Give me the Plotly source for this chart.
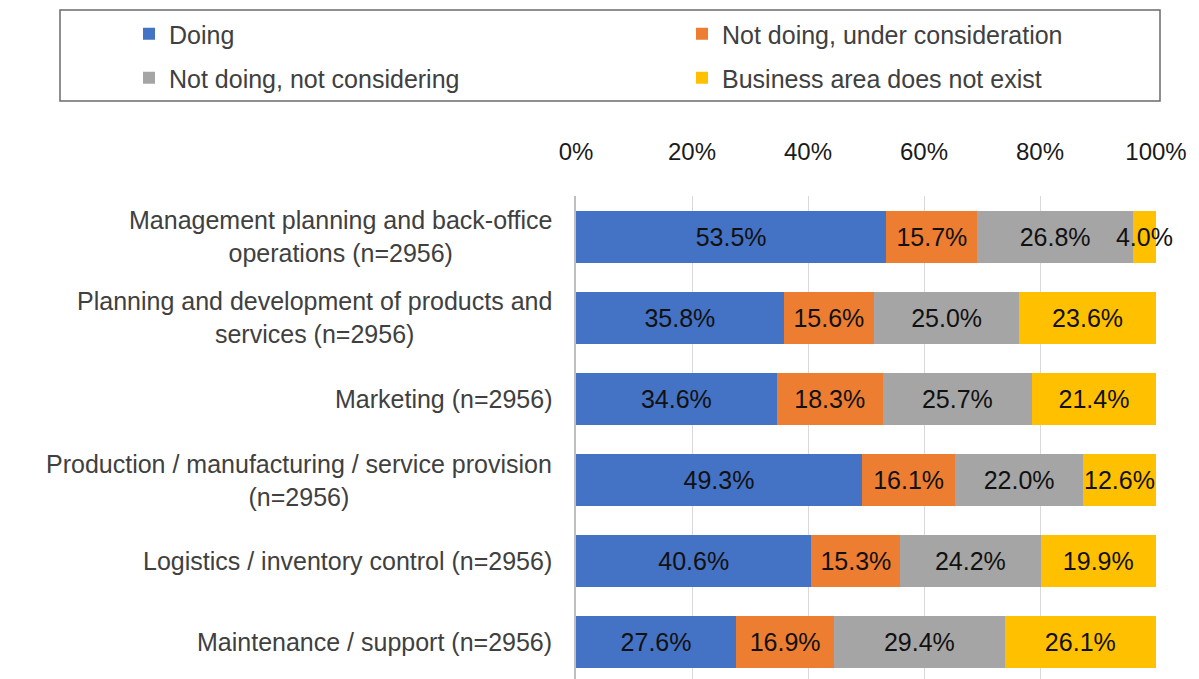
import plotly.graph_objects as go

# Business areas (top to bottom) and the share of firms in each response group (%)
categories = [
    "Management planning and back-office<br>operations (n=2956)",
    "Planning and development of products and<br>services (n=2956)",
    "Marketing (n=2956)",
    "Production / manufacturing / service provision<br>(n=2956)",
    "Logistics / inventory control (n=2956)",
    "Maintenance / support (n=2956)",
]
doing = [53.5, 35.8, 34.6, 49.3, 40.6, 27.6]
under_consideration = [15.7, 15.6, 18.3, 16.1, 15.3, 16.9]
not_considering = [26.8, 25.0, 25.7, 22.0, 24.2, 29.4]
no_business_area = [4.0, 23.6, 21.4, 12.6, 19.9, 26.1]

series_names = [
    "Doing",
    "Not doing, under consideration",
    "Not doing, not considering",
    "Business area does not exist",
]
series_values = [doing, under_consideration, not_considering, no_business_area]
series_colors = ["#4472C4", "#ED7D31", "#A5A5A5", "#FFC000"]

x_tick_values = [0, 20, 40, 60, 80, 100]
x_tick_labels = ["0%", "20%", "40%", "60%", "80%", "100%"]

FONT = "Liberation Sans, Arial, sans-serif"
W, H = 1199, 679
ML, MR, MT, MB = 576, 43, 196, 0

# Legend grid: two columns, two rows (left edge of entry, row centre) in pixels
legend_slots = [(129, 34), (682, 34), (129, 78), (682, 78)]
legend_ids = ["legend", "legend2", "legend3", "legend4"]

fig = go.Figure()
for name, vals, color, lg in zip(series_names, series_values, series_colors, legend_ids):
    fig.add_trace(go.Bar(
        name=name,
        y=categories,
        x=vals,
        orientation="h",
        marker=dict(color=color, line=dict(width=0)),
        text=[f"{v:.1f}%" for v in vals],
        textposition="inside",
        insidetextanchor="middle",
        textangle=0,
        constraintext="none",
        cliponaxis=False,
        textfont=dict(family=FONT, size=25, color="#111111"),
        legend=lg,
        hoverinfo="skip",
    ))

# Category labels: right-aligned block, lines centred within it
for cat in categories:
    fig.add_annotation(
        text=cat, xref="paper", x=0, xanchor="right", xshift=-22,
        yref="y", y=cat, yanchor="middle", align="center", showarrow=False,
        font=dict(family=FONT, size=25, color="#404040"),
    )

# Frame around the legend area
pw, ph = W - ML - MR, H - MT - MB
def px_x(p):
    return (p - ML) / pw
def px_y(p):
    return (H - MB - p) / ph
fig.add_shape(
    type="rect", xref="paper", yref="paper",
    x0=px_x(60), x1=px_x(1160), y0=px_y(101), y1=px_y(10),
    line=dict(color="#6b6b6b", width=1.5), fillcolor="rgba(0,0,0,0)", layer="above",
)

legends = {}
for lid, (lx, ly) in zip(legend_ids, legend_slots):
    legends[lid] = dict(
        orientation="h", xref="container", yref="container",
        x=lx / W, y=1 - ly / H, xanchor="left", yanchor="middle",
        font=dict(family=FONT, size=25, color="#404040"),
        bgcolor="rgba(0,0,0,0)", borderwidth=0,
    )

fig.update_layout(
    width=W, height=H,
    margin=dict(l=ML, r=MR, t=MT, b=MB, pad=0),
    paper_bgcolor="white", plot_bgcolor="white",
    barmode="stack", bargap=0.36,
    showlegend=True,
    **legends,
    xaxis=dict(
        side="top", range=[0, 100],
        tickmode="array", tickvals=x_tick_values, ticktext=x_tick_labels,
        showgrid=True, gridcolor="#d9d9d9", gridwidth=1,
        zeroline=False, showline=False, ticks="",
        ticklabelstandoff=30,
        tickfont=dict(family=FONT, size=24, color="#1a1a1a"),
        fixedrange=True,
    ),
    yaxis=dict(
        type="category", range=[5.45, -0.5], showticklabels=False,
        showgrid=False, zeroline=False, showline=True,
        linecolor="#bfbfbf", linewidth=1.5, ticks="",
        fixedrange=True,
    ),
)

fig.write_html("out.html")
